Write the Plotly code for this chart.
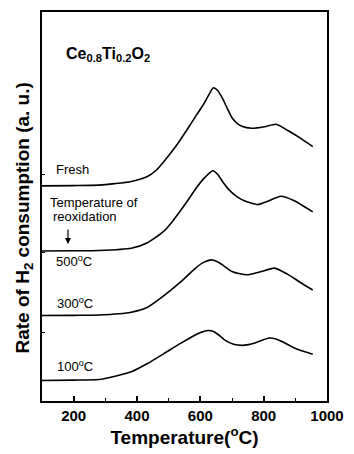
import plotly.graph_objects as go

# ---- data ----
temp_fresh = [100, 200, 280, 330, 382, 433, 460, 485, 510, 536, 562, 587, 608, 625, 641, 655, 670, 685,
              700, 716, 731, 762, 803, 839, 875, 916, 955]
h2_fresh = [0, 0.3, 0.8, 2.3, 4.5, 9.5, 15.5, 24.5, 34.5, 46, 58.5, 71, 81, 90.5, 98.8, 96, 88, 78,
            68.5, 63, 60, 58, 59.5, 62, 56, 48, 39.5]

temp_500 = [100, 200, 280, 382, 433, 485, 510, 536, 562, 587, 613, 639, 655, 670, 690, 710, 731, 757,
            782, 813, 854, 895, 955]
h2_500 = [0, 0.2, 0.5, 2.7, 8.3, 20, 29, 40, 51.5, 63.3, 73.5, 80.7, 77, 70, 61.7, 56, 51.7, 48.5,
          46.7, 50, 55, 50.7, 39.3]

temp_300 = [100, 200, 280, 382, 433, 485, 536, 587, 610, 634, 652, 670, 700, 725, 747, 770, 793, 834,
            875, 916, 955]
h2_300 = [0, 0.2, 0.5, 3.3, 8.3, 20, 33.3, 48.3, 53.5, 56, 54.5, 51, 44.3, 42, 41, 42.3, 44.3, 47.7,
          41.7, 33.3, 25.7]

temp_100 = [100, 200, 280, 331, 382, 433, 485, 536, 587, 605, 623, 640, 655, 680, 705, 731, 752, 772,
            795, 818, 836, 854, 895, 955]
h2_100 = [0, 0.3, 1, 4.3, 8.7, 17, 27, 37, 46.3, 48.8, 50.3, 49.5, 46.5, 40, 36.5, 35.3, 36, 37.7,
          40.5, 42.7, 42, 39.7, 33, 26.3]

series_names = ["Fresh", "500°C", "300°C", "100°C"]
series_temps = [temp_fresh, temp_500, temp_300, temp_100]
series_vals = [h2_fresh, h2_500, h2_300, h2_100]
offsets = [216.5, 151, 86, 20.7]  # vertical stacking offsets (a.u.)

x_ticks = [200, 400, 600, 800, 1000]

fig = go.Figure()
for name, t, v, off in zip(series_names, series_temps, series_vals, offsets):
    fig.add_trace(go.Scatter(
        x=t, y=[val + off for val in v], mode="lines", name=name,
        line=dict(color="black", width=1.6, shape="spline", smoothing=0.6),
        showlegend=False, hoverinfo="skip"))

FONT = "Liberation Sans, Arial, sans-serif"
label_font = dict(family=FONT, size=13, color="black")

annotations = [
    dict(x=168, y=349, xref="x", yref="y", xanchor="left", yanchor="middle",
         text="<b>Ce<sub>0.8</sub>Ti<sub>0.2</sub>O<sub>2</sub></b>", showarrow=False,
         font=dict(family=FONT, size=16, color="black")),
    dict(x=138, y=233, xref="x", yref="y", xanchor="left", yanchor="middle",
         text="Fresh", showarrow=False, font=label_font),
    dict(x=120, y=199.3, xref="x", yref="y", xanchor="left", yanchor="middle",
         text="Temperature of", showarrow=False, font=label_font),
    dict(x=127, y=186, xref="x", yref="y", xanchor="left", yanchor="middle",
         text="reoxidation", showarrow=False, font=label_font),
    dict(x=138, y=141, xref="x", yref="y", xanchor="left", yanchor="middle",
         text="500<sup>o</sup>C", showarrow=False, font=label_font),
    dict(x=141, y=98.3, xref="x", yref="y", xanchor="left", yanchor="middle",
         text="300<sup>o</sup>C", showarrow=False, font=label_font),
    dict(x=141, y=35, xref="x", yref="y", xanchor="left", yanchor="middle",
         text="100<sup>o</sup>C", showarrow=False, font=label_font),
    dict(x=182, y=158, ax=182, ay=174, xref="x", yref="y", axref="x", ayref="y",
         text="", showarrow=True, arrowhead=2, arrowsize=1, arrowwidth=1.2,
         arrowcolor="black"),
    dict(x=-0.062, y=0.47, xref="paper", yref="paper", textangle=-90,
         text="<b>Rate of H<sub>2</sub> consumption (a. u.)</b>", showarrow=False,
         xanchor="center", yanchor="middle",
         font=dict(family=FONT, size=19, color="black")),
]

fig.update_layout(
    width=354, height=454,
    margin=dict(l=42, r=20, t=10, b=53),
    paper_bgcolor="white", plot_bgcolor="white",
    annotations=annotations,
    xaxis=dict(
        range=[100, 1000], tickvals=x_ticks, ticktext=["<b>%d</b>" % v for v in x_ticks],
        ticks="inside", ticklen=5, tickwidth=1.5, tickcolor="black",
        minor=dict(dtick=100, tick0=100, ticks="inside", ticklen=3, tickwidth=1.2, tickcolor="black"),
        showline=True, linecolor="black", linewidth=2, mirror=True,
        showgrid=False, zeroline=False,
        tickfont=dict(family=FONT, size=15, color="black"),
        title=dict(text="<b>Temperature(<sup>o</sup>C)</b>", standoff=6,
                   font=dict(family=FONT, size=19, color="black")),
    ),
    yaxis=dict(
        range=[0, 391.5], tickvals=[69, 149, 228], showticklabels=False,
        ticks="inside", ticklen=3, tickwidth=1, tickcolor="black",
        showline=True, linecolor="black", linewidth=2, mirror=True,
        showgrid=False, zeroline=False,
    ),
)

fig.write_html("out.html")
